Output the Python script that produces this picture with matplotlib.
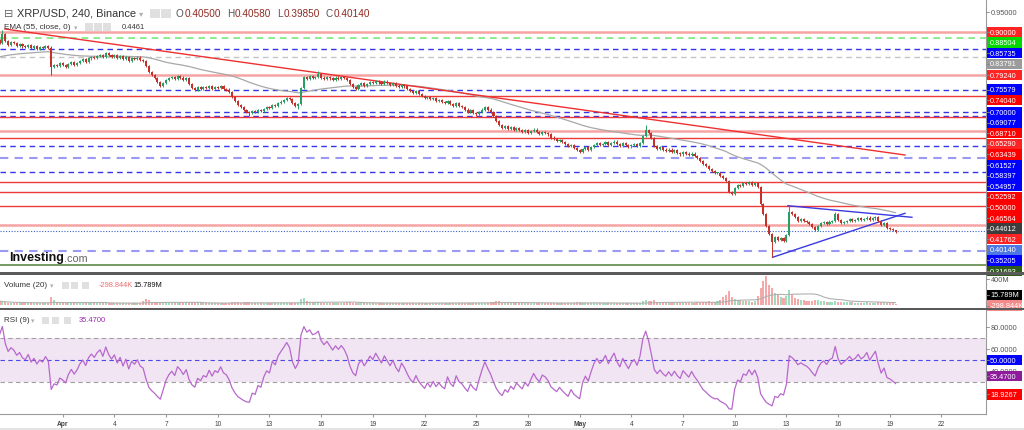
import numpy as np
import pandas as pd
import matplotlib
matplotlib.use("Agg")
import matplotlib.pyplot as plt
from matplotlib.patches import Rectangle

plt.rcParams['font.family'] = ['Liberation Sans', 'DejaVu Sans']

# ---- data: XRP/USD 4h candles, Mar 28 08:00 -> May 19 08:00 ----
first_open = 0.880
closes = [
    0.872, 0.895, 0.878, 0.868, 0.875, 0.872, 0.866, 0.870, 0.864, 0.862,
    0.868, 0.860, 0.864, 0.858, 0.862, 0.860, 0.865, 0.861, 0.812, 0.818,
    0.815, 0.822, 0.818, 0.812, 0.820, 0.825, 0.818, 0.822, 0.828, 0.832,
    0.826, 0.834, 0.838, 0.835, 0.840, 0.843, 0.838, 0.848, 0.842, 0.838,
    0.842, 0.835, 0.840, 0.832, 0.838, 0.828, 0.835, 0.832, 0.836, 0.830,
    0.828, 0.815, 0.800, 0.792, 0.785, 0.775, 0.765, 0.772, 0.780, 0.785,
    0.788, 0.782, 0.790, 0.786, 0.780, 0.784, 0.770, 0.760, 0.755, 0.762,
    0.758, 0.762, 0.760, 0.765, 0.758, 0.762, 0.760, 0.764, 0.758, 0.756,
    0.750, 0.738, 0.728, 0.718, 0.712, 0.705, 0.700, 0.698, 0.703, 0.700,
    0.705, 0.702, 0.708, 0.712, 0.710, 0.718, 0.715, 0.722, 0.726, 0.730,
    0.735, 0.732, 0.722, 0.716, 0.720, 0.760, 0.788, 0.782, 0.790, 0.785,
    0.788, 0.795, 0.786, 0.782, 0.788, 0.784, 0.780, 0.786, 0.783, 0.788,
    0.785, 0.780, 0.770, 0.762, 0.758, 0.768, 0.772, 0.766, 0.770, 0.775,
    0.772, 0.778, 0.774, 0.770, 0.776, 0.772, 0.768, 0.772, 0.766, 0.762,
    0.768, 0.764, 0.758, 0.752, 0.748, 0.752, 0.745, 0.740, 0.735, 0.738,
    0.732, 0.735, 0.728, 0.730, 0.725, 0.722, 0.728, 0.720, 0.716, 0.722,
    0.715, 0.712, 0.706, 0.700, 0.704, 0.698, 0.694, 0.700, 0.706, 0.712,
    0.706, 0.700, 0.690, 0.678, 0.668, 0.660, 0.664, 0.658, 0.662, 0.656,
    0.660, 0.655, 0.650, 0.654, 0.648, 0.652, 0.656, 0.650, 0.646, 0.650,
    0.648, 0.644, 0.636, 0.632, 0.628, 0.630, 0.625, 0.620, 0.615, 0.618,
    0.610, 0.605, 0.600, 0.608, 0.612, 0.606, 0.612, 0.618, 0.622, 0.618,
    0.620, 0.624, 0.618, 0.622, 0.626, 0.620, 0.616, 0.622, 0.618, 0.614,
    0.618, 0.620, 0.616, 0.622, 0.640, 0.655, 0.648, 0.635, 0.615, 0.608,
    0.612, 0.606, 0.602, 0.606, 0.600, 0.604, 0.598, 0.594, 0.600, 0.596,
    0.592, 0.596, 0.590, 0.585, 0.578, 0.570, 0.565, 0.558, 0.552, 0.548,
    0.548, 0.540, 0.535, 0.528, 0.500, 0.495, 0.510, 0.518, 0.515, 0.522,
    0.520, 0.525, 0.518, 0.522, 0.512, 0.470, 0.445, 0.415, 0.395, 0.375,
    0.388, 0.380, 0.385, 0.378, 0.392, 0.450, 0.445, 0.438, 0.428, 0.432,
    0.428, 0.425, 0.420, 0.412, 0.405, 0.415, 0.422, 0.425, 0.420, 0.426,
    0.428, 0.445, 0.430, 0.422, 0.425, 0.428, 0.432, 0.428, 0.430, 0.434,
    0.430, 0.432, 0.436, 0.430, 0.434, 0.438, 0.428, 0.418, 0.422, 0.410,
    0.408, 0.405, 0.4014,
]
# wick extremes that stand out (candle index -> price)
high_marks = {1: 0.905, 111: 0.802, 225: 0.668, 275: 0.465, 291: 0.450, 312: 0.4058}
low_marks = {18: 0.792, 87: 0.690, 104: 0.708, 269: 0.337, 312: 0.3985}

# volume in millions
volume_m = [
    60, 45, 40, 35, 30, 28, 32, 30, 28, 25, 30, 28, 26, 25, 24, 26, 28, 30, 120, 70,
    40, 35, 30, 28, 26, 30, 28, 26, 30, 32, 30, 28, 35, 30, 26, 28, 30, 32, 28, 26,
    25, 28, 26, 24, 26, 28, 25, 24, 26, 28, 60, 95, 70, 45, 40, 50, 40, 35, 30, 28,
    26, 28, 30, 26, 28, 30, 35, 40, 35, 30, 25, 24, 22, 24, 26, 22, 24, 25, 22, 24,
    35, 45, 50, 40, 35, 38, 45, 40, 35, 30, 28, 26, 30, 28, 26, 30, 28, 30, 32, 28,
    30, 28, 35, 32, 30, 90, 110, 60, 45, 40, 45, 40, 35, 32, 30, 34, 30, 28, 30, 32,
    30, 40, 38, 35, 32, 30, 28, 30, 28, 26, 25, 24, 26, 24, 22, 24, 26, 24, 22, 24,
    26, 28, 30, 32, 35, 30, 34, 32, 36, 30, 28, 26, 30, 28, 26, 24, 28, 26, 30, 28,
    30, 32, 35, 34, 30, 32, 36, 34, 30, 32, 34, 38, 45, 60, 55, 40, 35, 30, 28, 26,
    28, 26, 24, 26, 28, 25, 24, 26, 28, 24, 26, 30, 35, 32, 30, 28, 32, 34, 36, 30,
    35, 38, 40, 32, 28, 30, 26, 28, 26, 24, 25, 24, 22, 24, 26, 24, 22, 25, 24, 22,
    24, 26, 25, 28, 60, 80, 55, 60, 70, 50, 40, 35, 32, 30, 28, 30, 32, 28, 30, 34,
    32, 30, 35, 40, 45, 50, 48, 55, 52, 50, 60, 70, 120, 150, 220, 130, 90, 80, 70, 60,
    55, 60, 50, 65, 140, 260, 380, 450, 320, 260, 180, 150, 120, 110, 140, 230, 150, 110, 90, 80,
    70, 60, 65, 60, 70, 80, 60, 55, 50, 48, 45, 60, 50, 45, 42, 40, 38, 40, 36, 35,
    34, 36, 38, 35, 32, 30, 40, 45, 38, 35, 30, 28, 16,
]

ema_seed = 0.836
rsi_seed = (0.0060, 0.0012)   # avg gain / avg loss before first candle

# horizontal levels and kind of line drawn at each
levels = [0.90000, 0.88504, 0.85735, 0.83791, 0.79240, 0.75579, 0.74040, 0.70000,
          0.69077, 0.68710, 0.65290, 0.63439, 0.61527, 0.58397, 0.54957, 0.52592,
          0.50000, 0.46564, 0.41762, 0.35205, 0.31693]
level_kind = ['lr', 'g', 'b', 'gr', 'lr', 'b', 'r', 'b', 'b', 'r', 'lr', 'r', 'b', 'lb',
              'b', 'r', 'r', 'r', 'lr', 'lb', 'dg']

# drawn trendlines: (start index, start price, end index, end price)
red_trend = (1.9, 0.9075, 315.3, 0.5925)
tri_upper = (274.5, 0.4657, 317.7, 0.4368)
tri_lower = (269.2, 0.3368, 315.3, 0.4468)

header_ohlc = ['0.40500', '0.40580', '0.39850', '0.40140']
ema_value = '0.4461'
ema_label = '0.44612'
last_price = '0.40140'
vol_labels = ['-298.844K', '15.789M']
rsi_value = '35.4700'
rsi_marks = [50.0, 35.47, 18.9267]

tick_days = ['2022-04-01', '2022-04-04', '2022-04-07', '2022-04-10', '2022-04-13',
             '2022-04-16', '2022-04-19', '2022-04-22', '2022-04-25', '2022-04-28',
             '2022-05-01', '2022-05-04', '2022-05-07', '2022-05-10', '2022-05-13',
             '2022-05-16', '2022-05-19', '2022-05-22']
tick_text = ['Apr', '4', '7', '10', '13', '16', '19', '22', '25', '28',
             'May', '4', '7', '10', '13', '16', '19', '22']

# ---- styles ----
UP, DN = '#25a062', '#c4302a'
KIND = {
    'lr': dict(color='#f7a3a3', lw=1.8, ls='-'),
    'r': dict(color='#ee3a3a', lw=1.0, ls='-'),
    'b': dict(color='#3434e8', lw=1.0, ls=(0, (4, 3))),
    'lb': dict(color='#9a9af5', lw=1.5, ls=(0, (4, 3))),
    'g': dict(color='#7be87b', lw=1.2, ls=(0, (4, 3))),
    'gr': dict(color='#c4c4c4', lw=1.0, ls=(0, (4, 3))),
    'dg': dict(color='#5d8a48', lw=1.2, ls='-'),
}
KIND_BOX = {'lr': '#ff2424', 'r': '#ff0000', 'b': '#0000ff', 'lb': '#0000ff',
            'g': '#00d800', 'gr': '#9b9b9b', 'dg': '#2e5a1c'}

W, H = 1024, 431
fig = plt.figure(figsize=(W / 100, H / 100), dpi=100)


def frect(x0, y0, x1, y1):
    return [x0 / W, 1 - y1 / H, (x1 - x0) / W, (y1 - y0) / H]


def fpt(x, y):
    return x / W, 1 - y / H


def box(x0, y0, x1, y1, color, z=20):
    fig.patches.append(Rectangle(fpt(x0, y1), (x1 - x0) / W, (y1 - y0) / H,
                                 transform=fig.transFigure, color=color, lw=0, zorder=z))


ax = fig.add_axes(frect(0, 0, 986, 273))
axv = fig.add_axes(frect(0, 276, 986, 309), sharex=ax)
axr = fig.add_axes(frect(0, 311, 986, 415), sharex=ax)

c = np.array(closes)
n = len(c)
pos = np.arange(n)
o = np.r_[first_open, c[:-1]]
hi = np.maximum(o, c) + 0.003
lo = np.minimum(o, c) - 0.003
for k, v in high_marks.items():
    hi[k] = v
for k, v in low_marks.items():
    lo[k] = v
up = c >= o
cols = np.where(up, UP, DN)

start = pd.Timestamp('2022-03-28 08:00')


def tpos(ts):
    return (pd.Timestamp(ts) - start) / pd.Timedelta('4h')


# levels
for lv, kd in zip(levels, level_kind):
    ax.axhline(lv, zorder=1, **KIND[kd])

ax.plot([red_trend[0], red_trend[2]], [red_trend[1], red_trend[3]], color='#ee3030', lw=1.0, zorder=3)
for t in (tri_upper, tri_lower):
    ax.plot([t[0], t[2]], [t[1], t[3]], color='#3a3ae0', lw=1.0, zorder=3)

# EMA 55
ema = pd.Series(np.r_[ema_seed, c]).ewm(span=55, adjust=False).mean().values[1:]
ax.plot(pos, ema, color='#a8a8a8', lw=0.9, zorder=2)

# candles
ax.vlines(pos, lo, hi, colors=cols, lw=0.7, zorder=4)
ax.bar(pos, np.maximum(np.abs(c - o), 0.0015), bottom=np.minimum(o, c), width=0.72,
       color=cols, lw=0, zorder=5)

ax.axhline(float(last_price), color='#3a5fd0', lw=0.8, ls=(0, (1, 1.5)), zorder=3)

ax.set_xlim(0.17, 343.5)
ax.set_ylim(0.30, 0.9825)

# volume
vol = np.array(volume_m, dtype=float)
axv.bar(pos, vol, width=0.72, color=np.where(up, '#9fdcbc', '#f4a8a8'), lw=0)
axv.plot(pos, pd.Series(vol).rolling(20, min_periods=1).mean(), color='#b0b0b0', lw=0.8)
axv.set_ylim(-50, 470)

# RSI 9 (Wilder)
delta = np.diff(np.r_[first_open, c])
ag, al = rsi_seed
rsi = []
for d in delta:
    ag = (ag * 8 + max(d, 0)) / 9
    al = (al * 8 + max(-d, 0)) / 9
    rsi.append(100 - 100 / (1 + ag / al))
axr.axhspan(30, 70, color='#f1e4f3', lw=0)
axr.axhline(70, color='#a0a0a0', lw=0.8, ls=(0, (4, 3)))
axr.axhline(30, color='#a0a0a0', lw=0.8, ls=(0, (4, 3)))
axr.axhline(50, color='#4a4ae8', lw=0.8, ls=(0, (4, 3)))
axr.plot(pos, rsi, color='#b768cc', lw=0.9)
axr.set_ylim(1.2, 95.7)

for a in (ax, axv, axr):
    for s in ('top', 'left', 'bottom'):
        a.spines[s].set_visible(False)
    a.spines['right'].set_color('#9a9a9a')
    a.tick_params(left=False, labelleft=False, right=False, labelright=False,
                  bottom=False, labelbottom=False)
    a.set_facecolor('white')

axr.spines['bottom'].set_visible(True)
axr.spines['bottom'].set_color('#9a9a9a')
axr.set_xticks([tpos(d) for d in tick_days])
axr.set_xticklabels(tick_text)
axr.tick_params(bottom=True, labelbottom=True, length=2.5, color='#9a9a9a',
                labelsize=4.8, labelcolor='#444444', pad=1.5)
for lab in axr.get_xticklabels():
    if lab.get_text() in ('Apr', 'May'):
        lab.set_fontweight('bold')

# separators and bottom strip
box(0, 273, W, 276, '#5a5a5a', z=30)
box(0, 309, W, 311, '#5a5a5a', z=30)
box(0, 428.5, W, H, '#e4e4e4', z=30)

fig.canvas.draw()

# ---- right price scale labels (stacked so they do not overlap) ----
LS = 5.3
box_items = []
for lv, kd in zip(levels, level_kind):
    box_items.append((lv, '%.5f' % lv, KIND_BOX[kd]))
box_items.append((float(ema_label), ema_label, '#3d3d3d'))
box_items.append((float(last_price), last_price, '#4d77e2'))
box_items.sort(key=lambda t: -t[0])


def tick(ypx):
    fig.add_artist(plt.Line2D([986 / W, 989 / W], [1 - ypx / H] * 2, color='#888888', lw=0.6, zorder=22))


def scale_box(ypx, txt, bg, z=20):
    box(987, ypx - 5.2, 1022, ypx + 5.2, bg, z=z)
    fig.text(*fpt(990, ypx), txt, fontsize=LS, color='white', va='center', ha='left', zorder=z + 1)
    tick(ypx)


prev = -100
for price, txt, bg in box_items:
    ypx = H - ax.transData.transform((0, price))[1]
    ypx = max(ypx, prev + 10.6)
    prev = ypx
    scale_box(ypx, txt, bg)

y95 = H - ax.transData.transform((0, 0.95))[1]
fig.text(*fpt(991, y95), '0.95000', fontsize=LS, color='#555555', va='center')
tick(y95)

# volume scale
y400 = H - axv.transData.transform((0, 400))[1]
fig.text(*fpt(991, y400), '400M', fontsize=LS, color='#555555', va='center')
tick(y400)
scale_box(296, vol_labels[1], '#000000')
scale_box(306.5, vol_labels[0], '#f58a8a', z=18)

# rsi scale
for v in (80, 60, 40):
    yy = H - axr.transData.transform((0, v))[1]
    fig.text(*fpt(991, yy), '%.4f' % v, fontsize=LS, color='#555555', va='center')
    tick(yy)
for v, bg in zip(rsi_marks, ('#0000ff', '#8e1b9c', '#ff0000')):
    yy = H - axr.transData.transform((0, v))[1]
    scale_box(yy, '%.4f' % v, bg)

# ---- header texts ----
def icons(xs, y0, y1, w):
    for x0 in xs:
        box(x0, y0, x0 + w, y1, '#e0e0e0', z=15)


fig.text(*fpt(4, 14), '\u229f', fontsize=8, color='#666666', va='center')
title = fig.text(*fpt(17, 14), 'XRP/USD, 240, Binance', fontsize=7.9, color='#333333', va='center')
tb = title.get_window_extent(fig.canvas.get_renderer())
fig.text(tb.x1 / W + 3 / W, 1 - 14.5 / H, '\u25be', fontsize=6, color='#b0b0b0', va='center')
icons((150, 161), 9.5, 19, 9.5)
for x0, key, val in zip((176, 227, 277, 326), 'OHLC', header_ohlc):
    t = fig.text(*fpt(x0, 14), key, fontsize=7.2, color='#555555', va='center')
    bb = t.get_window_extent(fig.canvas.get_renderer())
    fig.text(bb.x1 / W + 0.5 / W, 1 - 14 / H, val, fontsize=7.2, color='#8e2a22', va='center')

fig.text(*fpt(4, 28), 'EMA (55, close, 0)', fontsize=5.9, color='#333333', va='center')
fig.text(*fpt(74, 28.5), '\u25be', fontsize=5, color='#b0b0b0', va='center')
icons((85, 94, 103), 24, 32, 7.5)
fig.text(*fpt(122, 28), ema_value, fontsize=5.4, color='#333333', va='center')

fig.text(*fpt(4, 286), 'Volume (20)', fontsize=5.8, color='#333333', va='center')
fig.text(*fpt(50, 286.5), '\u25be', fontsize=5, color='#b0b0b0', va='center')
icons((62, 71, 82), 282.5, 290, 7)
fig.text(*fpt(99, 286), vol_labels[0], fontsize=5.3, color='#f06a6a', va='center')
fig.text(*fpt(133, 286), vol_labels[1], fontsize=5.3, color='#111111', va='center')

fig.text(*fpt(4, 321), 'RSI (9)', fontsize=5.8, color='#333333', va='center')
fig.text(*fpt(31, 321.5), '\u25be', fontsize=5, color='#b0b0b0', va='center')
icons((42, 52, 64), 317.5, 325, 7)
fig.text(*fpt(79, 321), rsi_value, fontsize=5.4, color='#9c27b0', va='center')

# logo
logo = fig.text(*fpt(9, 258), 'Investing', fontsize=9, fontweight='bold', color='#111111', va='center')
bb = logo.get_window_extent(fig.canvas.get_renderer())
fig.text(bb.x1 / W, 1 - 258.5 / H, '.com', fontsize=7.8, color='#666666', va='center')

fig.savefig('out.png', dpi=100)
